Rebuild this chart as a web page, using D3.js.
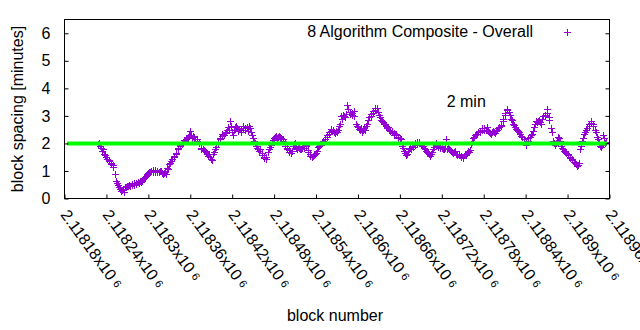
<!DOCTYPE html>
<html><head><meta charset="utf-8">
<script src="https://cdn.jsdelivr.net/npm/d3@7/dist/d3.min.js"></script>
<style>
body{margin:0;background:#fff;}
text{font-family:"Liberation Sans",Arial,sans-serif;fill:#000;}
</style>
</head><body>
<svg id="chart" width="640" height="330"></svg>
<script>
// ---- data ----
const blocks = [
2118228,2118231,2118234,2118237,2118240,2118243,2118246,2118249,2118252,2118255,
2118258,2118261,2118264,2118267,2118270,2118273,2118276,2118279,2118282,2118285,
2118288,2118291,2118294,2118297,2118300,2118303,2118306,2118309,2118312,2118315,
2118318,2118321,2118324,2118327,2118330,2118333,2118336,2118339,2118342,2118345,
2118348,2118351,2118354,2118357,2118360,2118363,2118366,2118369,2118372,2118375,
2118378,2118381,2118384,2118387,2118390,2118393,2118396,2118399,2118402,2118405,
2118408,2118411,2118414,2118417,2118420,2118423,2118426,2118429,2118432,2118435,
2118438,2118441,2118444,2118447,2118450,2118453,2118456,2118459,2118462,2118465,
2118468,2118471,2118474,2118477,2118480,2118483,2118486,2118489,2118492,2118495,
2118498,2118501,2118504,2118507,2118510,2118513,2118516,2118519,2118522,2118525,
2118528,2118531,2118534,2118537,2118540,2118543,2118546,2118549,2118552,2118555,
2118558,2118561,2118564,2118567,2118570,2118573,2118576,2118579,2118582,2118585,
2118588,2118591,2118594,2118597,2118600,2118603,2118606,2118609,2118612,2118615,
2118618,2118621,2118624,2118627,2118630,2118633,2118636,2118639,2118642,2118645,
2118648,2118651,2118654,2118657,2118660,2118663,2118666,2118669,2118672,2118675,
2118678,2118681,2118684,2118687,2118690,2118693,2118696,2118699,2118702,2118705,
2118708,2118711,2118714,2118717,2118720,2118723,2118726,2118729,2118732,2118735,
2118738,2118741,2118744,2118747,2118750,2118753,2118756,2118759,2118762,2118765,
2118768,2118771,2118774,2118777,2118780,2118783,2118786,2118789,2118792,2118795,
2118798,2118801,2118804,2118807,2118810,2118813,2118816,2118819,2118822,2118825,
2118828,2118831,2118834,2118837,2118840,2118843,2118846,2118849,2118852,2118855,
2118858,2118861,2118864,2118867,2118870,2118873,2118876,2118879,2118882,2118885,
2118888,2118891,2118894,2118897,2118900,2118903,2118906,2118909,2118912,2118915,
2118918,2118921,2118924,2118927,2118930,2118933,2118936,2118939,2118942,2118945,
2118948,2118951,2118954
];
const spacing = [
1.98,1.92,1.74,1.62,1.50,1.36,1.27,1.22,0.88,0.55,
0.40,0.28,0.35,0.43,0.44,0.50,0.48,0.55,0.52,0.60,
0.63,0.64,0.74,0.83,0.93,0.98,1.02,0.97,1.01,0.96,
0.99,0.90,0.95,1.12,1.24,1.36,1.50,1.60,1.78,1.90,
1.98,2.12,2.15,2.25,2.45,2.20,2.22,2.15,2.05,1.85,
1.80,1.72,1.62,1.60,1.42,1.62,1.80,1.98,2.15,2.28,
2.30,2.40,2.60,2.80,2.40,2.50,2.62,2.45,2.50,2.55,
2.48,2.60,2.65,2.40,2.20,2.00,1.85,1.72,1.65,1.52,
1.42,1.70,1.88,2.05,2.20,2.26,2.22,2.24,2.16,2.00,
1.84,1.75,1.65,1.90,2.02,1.80,1.84,1.78,1.90,1.96,
1.75,1.60,1.50,1.58,1.65,1.86,1.93,2.02,2.05,2.22,
2.40,2.45,2.50,2.38,2.42,2.62,2.98,3.05,2.95,3.38,
3.15,3.05,3.18,2.70,2.58,2.48,2.42,2.55,2.62,2.85,
3.00,3.12,3.22,3.28,3.05,2.85,2.78,2.72,2.55,2.50,
2.45,2.38,2.30,2.25,2.20,1.90,1.72,1.58,1.72,1.85,
1.92,1.96,2.05,2.00,1.95,1.90,1.78,1.70,1.60,1.62,
1.80,2.00,1.92,1.85,1.82,1.80,2.15,1.82,1.75,1.70,
1.68,1.62,1.58,1.55,1.48,1.62,1.65,1.70,1.98,2.20,
2.30,2.35,2.45,2.48,2.55,2.50,2.45,2.38,2.40,2.42,
2.45,2.55,2.62,2.80,3.05,3.25,3.15,2.90,2.72,2.58,
2.48,2.40,2.28,2.15,1.95,2.10,2.25,2.35,2.60,2.82,
2.80,2.78,2.90,3.05,3.25,2.95,2.55,2.10,1.95,2.10,
2.18,1.90,1.78,1.70,1.62,1.52,1.42,1.32,1.25,1.22,
1.80,2.10,2.35,2.50,2.65,2.82,2.70,2.48,2.22,2.00,
1.88,2.30,2.00
];
const blocksB = [
2118229,2118232,2118235,2118238,2118241,2118244,2118247,2118250,2118253,2118256,
2118259,2118262,2118265,2118268,2118271,2118274,2118277,2118280,2118283,2118286,
2118289,2118292,2118295,2118298,2118301,2118304,2118307,2118310,2118313,2118316,
2118319,2118322,2118325,2118328,2118331,2118334,2118337,2118340,2118343,2118346,
2118349,2118352,2118355,2118358,2118361,2118364,2118367,2118370,2118373,2118376,
2118379,2118382,2118385,2118388,2118391,2118394,2118397,2118400,2118403,2118406,
2118409,2118412,2118415,2118418,2118421,2118424,2118427,2118430,2118433,2118436,
2118439,2118442,2118445,2118448,2118451,2118454,2118457,2118460,2118463,2118466,
2118469,2118472,2118475,2118478,2118481,2118484,2118487,2118490,2118493,2118496,
2118499,2118502,2118505,2118508,2118511,2118514,2118517,2118520,2118523,2118526,
2118529,2118532,2118535,2118538,2118541,2118544,2118547,2118550,2118553,2118556,
2118559,2118562,2118565,2118568,2118571,2118574,2118577,2118580,2118583,2118586,
2118589,2118592,2118595,2118598,2118601,2118604,2118607,2118610,2118613,2118616,
2118619,2118622,2118625,2118628,2118631,2118634,2118637,2118640,2118643,2118646,
2118649,2118652,2118655,2118658,2118661,2118664,2118667,2118670,2118673,2118676,
2118679,2118682,2118685,2118688,2118691,2118694,2118697,2118700,2118703,2118706,
2118709,2118712,2118715,2118718,2118721,2118724,2118727,2118730,2118733,2118736,
2118739,2118742,2118745,2118748,2118751,2118754,2118757,2118760,2118763,2118766,
2118769,2118772,2118775,2118778,2118781,2118784,2118787,2118790,2118793,2118796,
2118799,2118802,2118805,2118808,2118811,2118814,2118817,2118820,2118823,2118826,
2118829,2118832,2118835,2118838,2118841,2118844,2118847,2118850,2118853,2118856,
2118859,2118862,2118865,2118868,2118871,2118874,2118877,2118880,2118883,2118886,
2118889,2118892,2118895,2118898,2118901,2118904,2118907,2118910,2118913,2118916,
2118919,2118922,2118925,2118928,2118931,2118934,2118937,2118940,2118943,2118946,
2118949,2118952,2118955
];
const spacingB = [
2.02,1.85,1.78,1.58,1.45,1.40,1.30,1.15,0.62,0.48,
0.35,0.32,0.22,0.40,0.47,0.45,0.52,0.50,0.56,0.57,
0.60,0.70,0.78,0.88,0.96,1.00,0.96,1.03,0.95,1.00,
0.93,0.94,0.88,1.08,1.30,1.42,1.55,1.66,1.84,1.95,
2.05,2.08,2.20,2.32,2.30,2.28,2.16,2.10,2.00,1.80,
1.76,1.68,1.55,1.50,1.38,1.70,1.88,2.05,2.20,2.35,
2.38,2.48,2.50,2.62,2.30,2.58,2.55,2.52,2.42,2.62,
2.55,2.45,2.55,2.30,2.10,1.92,1.80,1.78,1.58,1.48,
1.50,1.78,1.95,2.12,2.25,2.20,2.28,2.18,2.10,1.92,
1.78,1.70,1.72,1.98,1.85,1.86,1.78,1.85,1.84,1.92,
1.70,1.55,1.55,1.62,1.72,1.90,1.98,2.08,2.15,2.30,
2.35,2.52,2.42,2.45,2.48,2.72,2.88,3.00,3.08,3.25,
3.08,3.12,3.00,2.62,2.52,2.55,2.48,2.50,2.70,2.95,
3.08,3.18,3.28,3.15,2.95,2.80,2.72,2.65,2.60,2.45,
2.40,2.32,2.35,2.20,2.15,1.82,1.65,1.62,1.78,1.80,
1.88,2.02,1.98,2.06,1.90,1.85,1.72,1.65,1.55,1.68,
1.88,1.95,1.88,1.90,1.78,1.85,1.78,1.78,1.72,1.66,
1.72,1.58,1.62,1.50,1.52,1.58,1.72,1.75,2.05,2.25,
2.35,2.40,2.42,2.55,2.48,2.58,2.40,2.34,2.45,2.38,
2.50,2.58,2.68,2.90,3.12,3.20,3.05,2.85,2.68,2.52,
2.45,2.35,2.22,2.05,2.00,2.18,2.30,2.45,2.70,2.78,
2.85,2.72,2.98,3.00,3.10,2.85,2.40,2.00,2.02,2.22,
2.08,1.85,1.72,1.65,1.58,1.48,1.38,1.28,1.18,1.30,
1.92,2.20,2.42,2.55,2.72,2.75,2.62,2.40,2.15,1.92,
1.95,2.20,2.05
];
const xTickValues = [2118180,2118240,2118300,2118360,2118420,2118480,2118540,2118600,2118660,2118720,2118780,2118840,2118900,2118960];
const xTickLabels = ["2.11818","2.11824","2.1183","2.11836","2.11842","2.11848","2.11854","2.1186","2.11866","2.11872","2.11878","2.11884","2.1189","2.11896"];
const xTickExponent = "6";
const yTickValues = [0,1,2,3,4,5,6];
const xDomain = [2118180, 2118960];
const yDomain = [0, 6.5];
const targetValue = 2;
const seriesName = "8 Algorithm Composite - Overall";
const targetLabel = "2 min";
const targetLabelAt = [2118727, 3.32];
const xTitle = "block number";
const yTitle = "block spacing [minutes]";

// ---- drawing ----
const svg = d3.select("#chart");
const L = 64.5, R = 609.5, T = 19.5, B = 198.5;
const x = d3.scaleLinear().domain(xDomain).range([L, R]);
const y = d3.scaleLinear().domain(yDomain).range([B, T]);
const purple = "#9400d3";
const fs = 16;

// points
const data = blocks.map((b, i) => [b, spacing[i]])
  .concat(blocksB.map((b, i) => [b, spacingB[i]]))
  .sort((a, b) => a[0] - b[0]);
svg.append("g").selectAll("path").data(data).enter().append("path")
  .attr("transform", d => `translate(${Math.round(x(d[0])) + 0.5},${Math.round(y(d[1])) + 0.5})`)
  .attr("d", "M-3.5,0H3.5M0,-3.5V3.5")
  .attr("stroke", purple).attr("stroke-width", 1).attr("fill", "none")
  .attr("shape-rendering", "crispEdges");

// target line (drawn above points)
svg.append("line")
  .attr("x1", x(xDomain[0]) + 2.5).attr("x2", x(xDomain[1]) - 2.5)
  .attr("y1", y(targetValue)).attr("y2", y(targetValue))
  .attr("stroke", "#00ff00").attr("stroke-width", 4);

// frame
svg.append("rect").attr("x", L).attr("y", T).attr("width", R - L).attr("height", B - T)
  .attr("fill", "none").attr("stroke", "#000").attr("stroke-width", 1);

// y ticks (mirrored)
const yAxisL = d3.axisLeft(y).tickValues(yTickValues).tickSize(-4).tickPadding(14).tickFormat(d3.format("d"));
const gyl = svg.append("g").attr("transform", `translate(${L},0)`).call(yAxisL);
gyl.select(".domain").remove();
gyl.selectAll("text").attr("font-size", fs).attr("font-family", "Liberation Sans, Arial, sans-serif").attr("fill", "#000");
gyl.selectAll("line").attr("stroke", "#000");
const yAxisR = d3.axisRight(y).tickValues(yTickValues).tickSize(-4).tickFormat("");
const gyr = svg.append("g").attr("transform", `translate(${R},0)`).call(yAxisR);
gyr.select(".domain").remove();
gyr.selectAll("line").attr("stroke", "#000");

// x ticks
const xAxis = d3.axisBottom(x).tickValues(xTickValues).tickSize(-4).tickFormat("");
const gx = svg.append("g").attr("transform", `translate(0,${B})`).call(xAxis);
gx.select(".domain").remove();
gx.selectAll("line").attr("stroke", "#000");

// rotated x tick labels
const xl = svg.append("g");
xTickValues.forEach((v, i) => {
  const t = xl.append("text")
    .attr("transform", `translate(${x(v)},${B + 13}) rotate(54)`)
    .attr("font-size", fs).attr("dy", "0.35em").attr("text-anchor", "start");
  t.append("tspan").text(xTickLabels[i] + "x10");
  t.append("tspan").attr("font-size", 11).attr("dx", 4).attr("dy", -2).text(xTickExponent);
});

// axis titles
svg.append("text").attr("x", 335).attr("y", 321).attr("text-anchor", "middle").attr("font-size", fs).text(xTitle);
svg.append("text").attr("transform", `translate(23,${(T + B) / 2}) rotate(-90)`).attr("text-anchor", "middle").attr("font-size", fs).text(yTitle);

// legend
svg.append("text").attr("x", 533).attr("y", 37).attr("text-anchor", "end").attr("font-size", fs).text(seriesName);
svg.append("path").attr("transform", "translate(567.5,32.5)").attr("d", "M-3.5,0H3.5M0,-3.5V3.5")
  .attr("stroke", purple).attr("stroke-width", 1).attr("shape-rendering", "crispEdges");

// target annotation
svg.append("text").attr("x", x(targetLabelAt[0])).attr("y", y(targetLabelAt[1])).attr("font-size", fs).text(targetLabel);
</script>
</body></html>
